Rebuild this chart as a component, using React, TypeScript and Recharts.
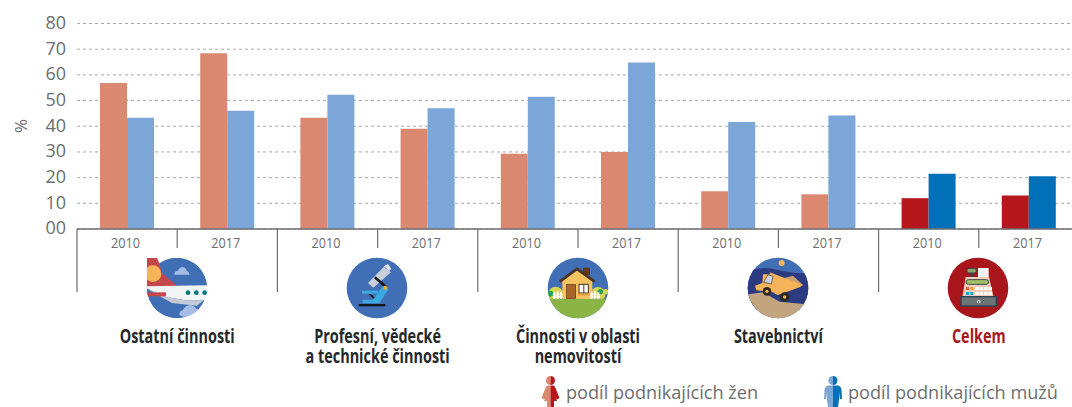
import React from 'react';
import { BarChart, Bar, Cell, XAxis, YAxis, CartesianGrid } from 'recharts';

const groups = ['Ostatní činnosti', 'Profesní, vědecké\na technické činnosti', 'Činnosti v oblasti\nnemovitostí', 'Stavebnictví', 'Celkem'];
const years = ['2010', '2017'];
const women = [56.8, 68.4, 43.3, 39, 29.3, 30, 14.7, 13.5, 12, 13];
const men = [43.3, 46, 52.3, 47, 51.5, 64.8, 41.7, 44.2, 21.5, 20.5];
const yTicks = [0, 10, 20, 30, 40, 50, 60, 70, 80];

const data = women.map((w, i) => ({ year: years[i % 2], women: w, men: men[i] }));

const GREY = '#6d6e70';
const BAND = 100.2;
const FONT = '"Open Sans", sans-serif';

// icons are drawn in a 210px box at 1/3 scale
const IconBox = ({ x, id, children }: { x: number; id: string; children: React.ReactNode }) => (
  <g transform={`translate(${x} 253) scale(0.3333)`}>
    <clipPath id={id}><circle cx={105} cy={105} r={91} /></clipPath>
    <g clipPath={`url(#${id})`}>{children}</g>
  </g>
);

const PlaneIcon = () => (
  <g transform="translate(142 253) scale(0.3333)">
    <clipPath id="planeClip"><path d="M14 14 H105 A91 91 0 1 1 14 105 Z" /></clipPath>
    <g clipPath="url(#planeClip)">
      <circle cx={105} cy={105} r={91} fill="#416fb5" />
      <path d="M14 14 H44 Q50 20 60 60 L112 104 H14 Z" fill="#c4474c" />
      <circle cx={33} cy={62} r={25} fill="#f5b35a" />
      <path d="M14 100 L200 97 V142 L130 142 L60 130 L14 106 Z" fill="#f1f4f5" />
      <path d="M14 108 L60 130 L130 142 L185 142 L165 158 L90 150 Z" fill="#c5cad6" />
      <rect x={14} y={118} width={58} height={12} fill="#c4474c" />
      <circle cx={138} cy={119} r={7} fill="#007a7c" />
      <circle cx={163} cy={119} r={7} fill="#007a7c" />
      <circle cx={188} cy={119} r={7} fill="#007a7c" />
      <path d="M97 65 Q97 55 107 54 Q112 42 122 42 Q132 44 134 54 Q142 56 142 65 Z" fill="#a5bde6" />
      <path d="M112 186 Q112 174 122 172 Q130 156 148 156 Q160 160 164 168 L180 170 Q160 190 125 192 Z" fill="#a5bde6" />
    </g>
  </g>
);

const MicroscopeIcon = () => (
  <IconBox x={342} id="microClip">
    <rect width={210} height={210} fill="#416fb5" />
    <path d="M78 90 L125 42 L147 58 L94 104 Z" fill="#c8cfdb" />
    <path d="M125 40 L138 33 L148 47 L142 54 Z" fill="#dfe3ea" />
    <line x1={101} y1={75} x2={130} y2={100} stroke="#15181c" strokeWidth={8} strokeLinecap="round" />
    <rect x={60} y={113} width={48} height={9} fill="#39a9e0" />
    <path d="M62 140 H92 L122 100 L140 108 L112 151 H62 Z" fill="#39a9e0" />
    <circle cx={130} cy={104} r={6} fill="#f0b429" />
    <path d="M80 123 L86 123 L98 133 L94 137 Z" fill="#15181c" />
    <rect x={50} y={153} width={80} height={7} fill="#15181c" />
  </IconBox>
);

const Fence = ({ x }: { x: number }) => (
  <g fill="#fff">
    <rect x={x} y={118} width={6} height={20} />
    <rect x={x + 10} y={115} width={6} height={23} />
    <rect x={x + 20} y={118} width={6} height={20} />
    <rect x={x - 2} y={123} width={30} height={3} />
    <rect x={x - 2} y={130} width={30} height={3} />
  </g>
);

const HouseIcon = () => (
  <IconBox x={543} id="houseClip">
    <rect width={210} height={210} fill="#416fb5" />
    <circle cx={38} cy={124} r={23} fill="#d8d552" />
    <circle cx={22} cy={122} r={9} fill="#23a455" />
    <circle cx={165} cy={124} r={22} fill="#d8d552" />
    <circle cx={172} cy={116} r={8} fill="#23a455" />
    <circle cx={188} cy={116} r={8} fill="#d8d552" />
    <rect y={137} width={210} height={73} fill="#8ab445" />
    <rect x={120} y={44} width={21} height={22} fill="#5d3a1a" />
    <path d="M58 85 L102 52 L148 85 V138 H58 Z" fill="#f5c35f" />
    <path d="M50 86 L102 48 L155 86" fill="none" stroke="#4c3323" strokeWidth={8} />
    <rect x={71} y={94} width={27} height={43} fill="#a8642a" stroke="#5d3a1a" strokeWidth={2} />
    <rect x={108} y={94} width={28} height={26} fill="#fff" stroke="#4c3323" strokeWidth={3} />
    <rect x={121} y={94} width={3} height={26} fill="#4c3323" />
    <rect x={104} y={122} width={36} height={6} fill="#e8a63f" />
    <Fence x={31} />
    <Fence x={143} />
  </IconBox>
);

const TruckIcon = () => (
  <IconBox x={743} id="truckClip">
    <rect width={210} height={210} fill="#416fb5" />
    <path d="M0 62 Q50 36 100 50 Q160 64 210 60 V170 H0 Z" fill="#2c3a80" />
    <path d="M0 126 L60 118 L110 146 L210 156 V210 H0 Z" fill="#c2a57e" />
    <circle cx={116} cy={30} r={9} fill="#f5b35a" />
    <path d="M112 78 L150 68 L180 96 L140 100 Z" fill="#caa070" />
    <path d="M80 58 L180 96 L170 103 L105 126 L95 122 Z" fill="#f5b35a" />
    <path d="M60 64 L90 64 L102 120 L40 112 L36 98 L58 90 Z" fill="#f5b35a" />
    <path d="M62 88 L75 65 L90 70 L85 93 Z" fill="#c4d4e6" stroke="#4c3323" strokeWidth={2} />
    <circle cx={72} cy={115} r={13} fill="#2f2a1e" />
    <circle cx={72} cy={115} r={5} fill="#f5b35a" />
    <circle cx={125} cy={132} r={14} fill="#2f2a1e" />
    <circle cx={125} cy={132} r={5} fill="#f5b35a" />
  </IconBox>
);

const RegisterIcon = () => (
  <IconBox x={943} id="registerClip">
    <rect width={210} height={210} fill="#a8151b" />
    <rect x={105} y={45} width={32} height={30} fill="#f2f2f2" />
    <rect x={82} y={60} width={9} height={13} fill="#3c454c" />
    <rect x={72} y={46} width={28} height={14} rx={6} fill="#8ca56a" stroke="#3c454c" strokeWidth={3} />
    <path d="M68 72 H138 L152 132 H58 Z" fill="#f5cdbb" />
    <rect x={69} y={80} width={68} height={14} rx={7} fill="#a6c165" stroke="#3c454c" strokeWidth={3} />
    <rect x={69} y={102} width={9} height={9} fill="#d9604a" />
    <rect x={82} y={102} width={9} height={9} fill="#f0a030" />
    <rect x={69} y={117} width={9} height={9} fill="#1aa3d8" />
    <rect x={82} y={117} width={9} height={9} fill="#1aa3d8" />
    {[97, 110, 124, 137].map(x => (
      <g key={x} fill="#fff">
        <rect x={x} y={102} width={10} height={9} />
        <rect x={x} y={117} width={10} height={9} />
      </g>
    ))}
    <rect x={54} y={131} width={106} height={28} fill="#6d7478" stroke="#2c4450" strokeWidth={4} />
    <circle cx={107} cy={146} r={5} fill="#fff" />
    <rect x={105.500} y={144} width={3} height={7} fill="#3c454c" />
  </IconBox>
);

const icons = [PlaneIcon, MicroscopeIcon, HouseIcon, TruckIcon, RegisterIcon];

const DRESS = 'M0 385.500 H-3 Q-4.500 386 -5 388 L-9 398 L-6.500 399.500 L-5.500 398 L-6.500 401 H-3.500 V407 H0 Z';
const SUIT = 'M0 385.500 H-5 Q-8 386 -8.500 390 L-9 399 H-6.800 L-6 392 V400 L-5 407 H0 Z';

const Person = ({ cx, light, dark, shape }: { cx: number; light: string; dark: string; shape: string }) => (
  <g transform={`translate(${cx} 0)`}>
    <path d="M0 376 A4.500 4.500 0 0 0 0 385 Z" fill={light} />
    <path d="M0 376 A4.500 4.500 0 0 1 0 385 Z" fill={dark} />
    <path d={shape} fill={light} />
    <path d={shape} fill={dark} transform="scale(-1 1)" />
  </g>
);

const GroupTick = (props: any) => {
  const { x, index, payload } = props;
  const isGroupStart = index % 2 === 0;
  const groupIndex = Math.floor(index / 2);
  const lines = groups[groupIndex].split('\n');
  return (
    <g>
      <line x1={x - BAND / 2} x2={x - BAND / 2} y1={229} y2={isGroupStart ? 292 : 248} stroke={GREY} strokeWidth={1.2} />
      <text x={x - 1.5} y={248} textAnchor="middle" fontSize={14} textLength={29} lengthAdjust="spacingAndGlyphs" fill={GREY} fontFamily={FONT}>
        {payload.value}
      </text>
      {isGroupStart && (
        <text
          transform={`translate(${x + BAND / 2} 342.5) scale(0.76 1)`}
          textAnchor="middle"
          fontSize={19}
          fontWeight={700}
          fill={groupIndex === 4 ? '#a8151b' : '#25282a'}
          fontFamily={FONT}
        >
          {lines.map((line, i) => (
            <tspan key={line} x={0} dy={i === 0 ? 0 : 21}>{line}</tspan>
          ))}
        </text>
      )}
    </g>
  );
};

const App = () => (
  <div style={{ position: 'absolute', left: 0, top: 0, width: 1072, height: 407, overflow: 'hidden', background: '#fff' }}>
    <BarChart
      width={1079}
      height={407}
      data={data}
      barGap={0}
      barSize={27}
      margin={{ top: 23.5, right: 0, bottom: 0, left: 0 }}
    >
      <CartesianGrid vertical={false} stroke="#aaaaaa" strokeDasharray="3 3" />
      <XAxis
        dataKey="year"
        height={178}
        interval={0}
        tick={<GroupTick />}
        tickLine={false}
        axisLine={{ stroke: GREY, strokeWidth: 1.5 }}
      />
      <YAxis
        width={77}
        domain={[0, 80]}
        ticks={yTicks}
        interval={0}
        axisLine={false}
        tickLine={false}
        tickMargin={5}
        tickFormatter={(v: number) => (v === 0 ? '00' : String(v))}
        tick={{ fontSize: 18, fill: GREY, fontFamily: FONT, dy: -1 }}
      />
      <Bar dataKey="women" isAnimationActive={false}>
        {data.map((_, i) => <Cell key={i} fill={i >= 8 ? '#b5171d' : '#db8870'} />)}
      </Bar>
      <Bar dataKey="men" isAnimationActive={false}>
        {data.map((_, i) => <Cell key={i} fill={i >= 8 ? '#0070b8' : '#7da6d8'} />)}
      </Bar>
      <text x={22} y={126} transform="rotate(-90 22 126)" textAnchor="middle" dominantBaseline="middle" fontSize={17} fill={GREY} fontFamily={FONT}>%</text>
      {icons.map((Icon, i) => <Icon key={i} />)}
      <Person cx={550.5} light="#db8870" dark="#b5171d" shape={DRESS} />
      <text x={566} y={399} fontSize={19} textLength={192} lengthAdjust="spacingAndGlyphs" fill={GREY} fontFamily={FONT}>podíl podnikajících žen</text>
      <Person cx={833} light="#7da6d8" dark="#0070b8" shape={SUIT} />
      <text x={848} y={399} fontSize={19} textLength={210} lengthAdjust="spacingAndGlyphs" fill={GREY} fontFamily={FONT}>podíl podnikajících mužů</text>
    </BarChart>
  </div>
);

export default App;
